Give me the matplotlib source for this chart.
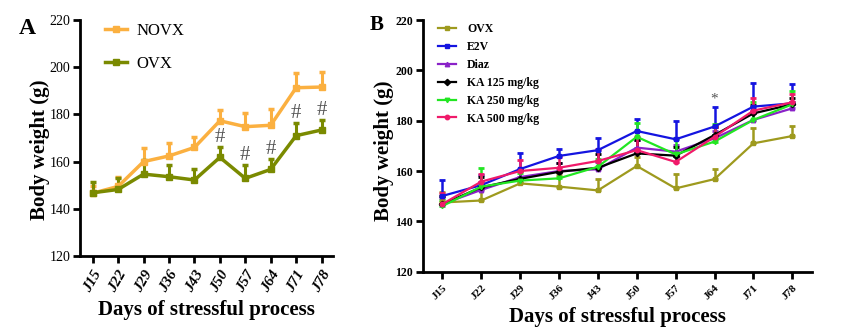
import matplotlib
matplotlib.use("Agg")
import matplotlib.pyplot as plt
from matplotlib.lines import Line2D
import numpy as np

days = ["J15", "J22", "J29", "J36", "J43", "J50", "J57", "J64", "J71", "J78"]

# Panel A
novx_mean = [146.6, 149.5, 160.0, 162.4, 166.0, 177.3, 174.8, 175.4, 191.3, 191.6]
novx_sem = [3.0, 3.8, 5.6, 5.6, 4.6, 4.6, 6.0, 6.7, 6.4, 6.2]
ovxA_mean = [146.8, 148.2, 154.7, 153.6, 152.2, 161.8, 152.9, 156.7, 171.0, 173.4]
ovxA_sem = [4.4, 4.7, 6.0, 5.1, 4.5, 4.5, 5.7, 4.3, 5.5, 4.2]
hash_days = ["J50", "J57", "J64", "J71", "J78"]

# Panel B
ovx_mean = [147.5, 148.3, 155.1, 153.8, 152.3, 162.0, 153.1, 156.8, 171.0, 173.9]
ovx_sem = [4.0, 4.5, 5.0, 4.5, 4.5, 3.7, 5.7, 4.2, 6.0, 4.0]
e2v_mean = [150.1, 154.4, 160.8, 166.0, 168.3, 175.9, 172.6, 177.7, 185.6, 186.9]
e2v_sem = [6.3, 4.0, 6.5, 2.7, 4.9, 4.8, 7.3, 7.9, 9.2, 7.5]
diaz_mean = [146.9, 152.5, 157.6, 160.0, 160.7, 169.3, 167.7, 173.0, 180.3, 184.9]
diaz_sem = [2.5, 3.0, 3.0, 3.0, 3.0, 3.0, 2.5, 3.0, 3.5, 2.5]
ka125_mean = [146.9, 153.5, 156.9, 159.7, 161.3, 167.0, 166.1, 174.3, 182.9, 186.5]
ka125_sem = [3.0, 4.2, 3.5, 3.5, 5.3, 5.3, 3.3, 3.0, 3.5, 2.5]
ka250_mean = [146.1, 153.8, 156.2, 157.1, 161.7, 173.6, 166.6, 171.7, 180.3, 186.5]
ka250_sem = [2.5, 7.3, 3.0, 3.0, 3.0, 5.6, 6.4, 7.0, 7.0, 5.4]
ka500_mean = [146.9, 155.8, 160.0, 161.3, 164.0, 168.3, 163.6, 173.6, 184.0, 187.3]
ka500_sem = [4.5, 3.0, 4.5, 4.4, 4.6, 5.3, 3.7, 3.8, 4.9, 3.3]

serif = "Liberation Serif"
plt.rcParams["font.family"] = serif

fig = plt.figure(figsize=(8.53, 3.34), dpi=100)
axA = fig.add_axes([0.0938, 0.2335, 0.2966, 0.7066])
axB = fig.add_axes([0.4959, 0.1865, 0.4557, 0.7536])

x = np.arange(len(days))

def style_axis(ax, xmax, xtick_style, rot, xfs, yfs, yweight):
    ax.set_ylim(120, 220)
    ax.set_xlim(-0.5, xmax)
    ax.set_yticks(range(120, 221, 20))
    ax.set_xticks(x)
    for s in ["top", "right"]:
        ax.spines[s].set_visible(False)
    for s in ["left", "bottom"]:
        ax.spines[s].set_linewidth(2.0)
    ax.tick_params(axis="both", direction="out", width=2.0, length=5)
    ax.tick_params(axis="y", pad=2)
    if rot == 45:
        ax.set_xticklabels(days, rotation=rot, fontsize=xfs, fontweight="bold",
                           fontstyle=xtick_style, ha="right", rotation_mode="anchor")
    else:
        ax.set_xticklabels(days, rotation=rot, fontsize=xfs, fontweight="bold",
                           fontstyle=xtick_style, ha="center")
    for lab in ax.get_yticklabels():
        lab.set_fontsize(yfs)
        lab.set_fontweight(yweight)
    ax.set_ylabel("Body weight (g)", fontsize=15, fontweight="bold")
    ax.set_xlabel("Days of stressful process", fontsize=15, fontweight="bold")

# Panel A
colA = {"NOVX": "#FBB040", "OVX": "#7A8A00"}
handlesA = []
for name, m, s in [("NOVX", novx_mean, novx_sem), ("OVX", ovxA_mean, ovxA_sem)]:
    c = colA[name]
    axA.errorbar(x, m, yerr=[np.zeros(len(s)), s], color=c, lw=2.5, marker="s",
                 ms=4, capsize=2.5, capthick=2.5, elinewidth=2.2)
    handlesA.append(Line2D([], [], color=c, lw=2.5, marker="s", ms=4, label=name))
for d in hash_days:
    i = days.index(d)
    axA.annotate("#", (x[i], ovxA_mean[i] + ovxA_sem[i]), xytext=(0, 0),
                 textcoords="offset points", ha="center", va="bottom",
                 fontsize=15, color="#555555")
style_axis(axA, 9.45, "italic", 60, 11, 10, "normal")
axA.yaxis.set_label_coords(-0.12, 0.45)
axA.legend(handles=handlesA, loc="upper left", bbox_to_anchor=(0.04, 1.05),
           frameon=False, handlelength=1.3, labelspacing=1.0, handletextpad=0.6,
           prop={"family": serif, "size": 12})
fig.text(0.032, 0.915, "A", fontsize=17, fontweight="bold", ha="center", va="center")

# Panel B
seriesB = [
    ("OVX", ovx_mean, ovx_sem, "#9E9A1E", "s"),
    ("E2V", e2v_mean, e2v_sem, "#1414E0", "s"),
    ("Diaz", diaz_mean, diaz_sem, "#8A22C8", "^"),
    ("KA 125 mg/kg", ka125_mean, ka125_sem, "#000000", "D"),
    ("KA 250 mg/kg", ka250_mean, ka250_sem, "#22E622", "v"),
    ("KA 500 mg/kg", ka500_mean, ka500_sem, "#F01A6A", "o"),
]
handlesB = []
for name, m, s, c, mk in seriesB:
    axB.errorbar(x, m, yerr=[np.zeros(len(s)), s], color=c, lw=1.6, marker=mk,
                 ms=3.2, capsize=2.0, capthick=2.0, elinewidth=1.8)
    handlesB.append(Line2D([], [], color=c, lw=1.6, marker=mk, ms=3.2, label=name))
i64 = days.index("J64")
axB.annotate("*", (x[i64], e2v_mean[i64] + e2v_sem[i64]), xytext=(0, 1),
             textcoords="offset points", ha="center", va="bottom",
             fontsize=11, color="#555555")
style_axis(axB, 9.5, "normal", 45, 8, 8.5, "bold")
axB.yaxis.set_label_coords(-0.075, 0.48)
axB.legend(handles=handlesB, loc="upper left", bbox_to_anchor=(0.01, 1.03),
           frameon=False, handlelength=1.6, labelspacing=0.5, handletextpad=0.9,
           prop={"family": serif, "size": 8.5, "weight": "bold"})
fig.text(0.441, 0.925, "B", fontsize=15, fontweight="bold", ha="center", va="center")

fig.savefig("out.png", dpi=100)
